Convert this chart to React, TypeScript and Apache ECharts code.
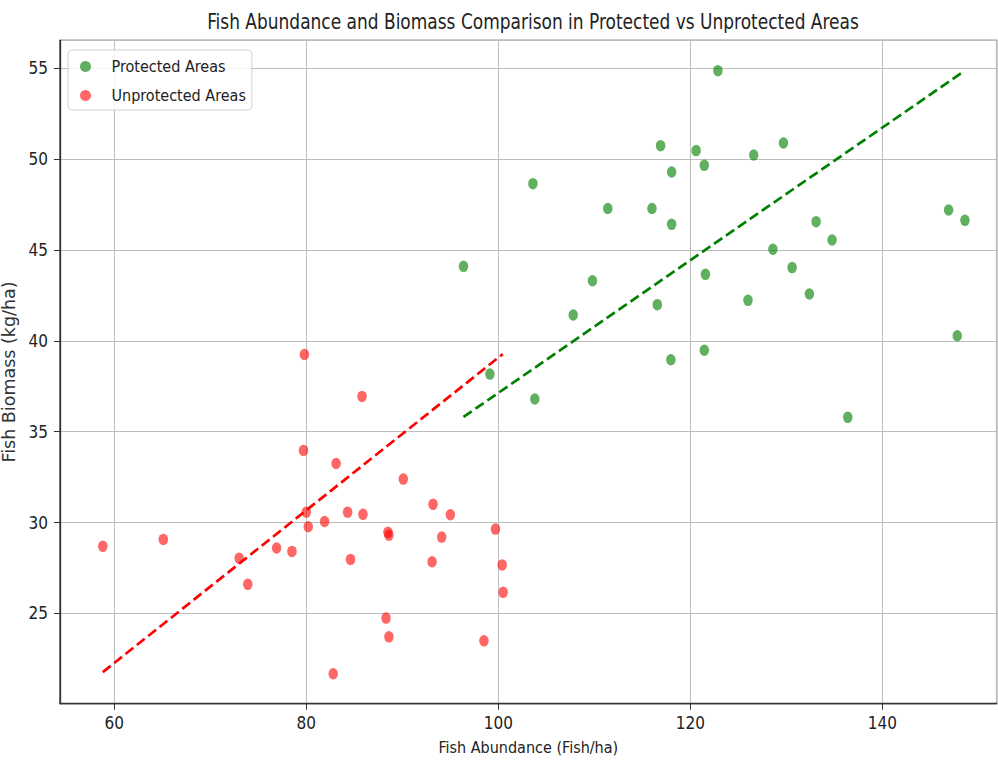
import React, { useEffect, useRef } from "react";
import * as echarts from "echarts";

const protectedX = [122.87, 116.9, 120.6, 121.45, 118.05, 126.6, 129.7, 103.6, 111.4, 116.0, 118.05, 133.1, 134.76, 146.9, 148.6, 128.6, 130.6, 96.37, 109.8, 121.57, 107.8, 116.56, 126.0, 132.4, 147.8, 117.97, 121.45, 99.12, 103.8, 136.4];
const protectedY = [54.87, 50.74, 50.47, 49.66, 49.29, 50.23, 50.89, 48.65, 47.28, 47.28, 46.41, 46.56, 45.55, 47.2, 46.63, 45.04, 44.03, 44.1, 43.31, 43.66, 41.42, 41.99, 42.23, 42.58, 40.28, 38.96, 39.48, 38.17, 36.8, 35.79];

const unprotectedX = [58.8, 65.1, 73.0, 73.9, 76.9, 78.5, 79.8, 79.7, 80.0, 80.2, 81.9, 83.1, 82.8, 84.3, 84.6, 85.8, 85.9, 88.5, 88.6, 88.3, 88.6, 90.1, 93.2, 93.1, 94.1, 95.0, 98.5, 99.7, 100.4, 100.5];
const unprotectedY = [28.69, 29.07, 28.04, 26.6, 28.6, 28.41, 39.25, 33.97, 30.57, 29.77, 30.06, 33.25, 21.68, 30.57, 27.97, 36.94, 30.45, 29.46, 29.3, 24.74, 23.71, 32.39, 31.0, 27.84, 29.2, 30.43, 23.49, 29.64, 27.67, 26.16];

const protectedTrendX = [96.37, 148.53];
const protectedTrendY = [35.81, 54.85];
const unprotectedTrendX = [58.8, 100.46];
const unprotectedTrendY = [21.77, 39.27];

const seriesNames = ["Protected Areas", "Unprotected Areas"];
const titleText = "Fish Abundance and Biomass Comparison in Protected vs Unprotected Areas";
const xAxisName = "Fish Abundance (Fish/ha)";
const yAxisName = "Fish Biomass (kg/ha)";

const NARROW = "'Liberation Sans Narrow', 'DejaVu Sans Condensed', 'Arial Narrow', 'DejaVu Sans', sans-serif";
const ELLIPSE = "path://M50,0A50,50,0,1,1,50,100A50,50,0,1,1,50,0Z";

const zip = (xs: number[], ys: number[]) => xs.map((x, i) => [x, ys[i]]);

export default function App() {
  const ref = useRef<HTMLDivElement>(null);
  useEffect(() => {
    document.body.style.margin = "0";
    if (!ref.current) return;
    const chart = echarts.init(ref.current, null, { renderer: "svg" });
    const axisCommon = {
      type: "value" as const,
      axisLine: { show: true, onZero: false, lineStyle: { color: "#333", width: 1.3 } },
      axisTick: { show: true, length: 6, lineStyle: { color: "#333", width: 1 } },
      splitLine: { show: true, lineStyle: { color: "#bdbdbd", width: 1 } },
    };
    chart.setOption({
      animation: false,
      backgroundColor: "#ffffff",
      grid: {
        left: 60,
        top: 40.3,
        width: 936.6,
        height: 663.4,
        containLabel: false,
        outerBoundsMode: "none",
        show: true,
        borderColor: "#333",
        borderWidth: 1.3,
        backgroundColor: "transparent",
      },
      graphic: [
        {
          type: "text",
          x: 533,
          y: 21,
          scaleX: 0.86,
          z: 10,
          style: {
            text: titleText,
            fill: "#222",
            font: `22px ${NARROW}`,
            textAlign: "center",
            textVerticalAlign: "middle",
          },
        },
      ],
      legend: {
        data: seriesNames,
        orient: "vertical",
        left: 68,
        top: 50,
        padding: [6, 6, 4, 12],
        itemWidth: 18,
        itemHeight: 11,
        itemGap: 8,
        icon: "circle",
        backgroundColor: "rgba(255,255,255,0.85)",
        borderColor: "#d0d0d0",
        borderWidth: 1,
        borderRadius: 4,
        textStyle: {
          fontFamily: NARROW,
          fontSize: 16,
          lineHeight: 21,
          color: "#222",
          padding: [0, 0, 0, 12],
        },
      },
      xAxis: {
        ...axisCommon,
        min: 54.34,
        max: 151.9,
        splitNumber: 5,
        minInterval: 20,
        maxInterval: 20,
        name: xAxisName,
        nameLocation: "middle",
        nameGap: 36,
        nameTextStyle: { fontFamily: NARROW, fontSize: 16, color: "#222" },
        axisLabel: {
          fontFamily: NARROW,
          fontSize: 17,
          color: "#222",
          margin: 11,
          showMinLabel: false,
          showMaxLabel: false,
        },
      },
      yAxis: {
        ...axisCommon,
        min: 20.03,
        max: 56.54,
        splitNumber: 7,
        minInterval: 5,
        maxInterval: 5,
        name: yAxisName,
        nameLocation: "middle",
        nameGap: 32,
        nameTextStyle: { fontFamily: "'DejaVu Sans', sans-serif", fontSize: 17.5, color: "#333" },
        axisLabel: {
          fontFamily: NARROW,
          fontSize: 17,
          color: "#222",
          margin: 12,
          showMinLabel: false,
          showMaxLabel: false,
        },
      },
      series: [
        {
          name: seriesNames[0],
          type: "scatter",
          data: zip(protectedX, protectedY),
          symbol: ELLIPSE,
          symbolSize: [9.5, 11.5],
          itemStyle: { color: "rgba(0,128,0,0.78)" },
          z: 2,
        },
        {
          name: seriesNames[1],
          type: "scatter",
          data: zip(unprotectedX, unprotectedY),
          symbol: ELLIPSE,
          symbolSize: [9.5, 11.5],
          itemStyle: { color: "rgba(255,0,0,0.75)" },
          z: 2,
        },
        {
          name: "Protected trend",
          type: "line",
          data: zip(protectedTrendX, protectedTrendY),
          showSymbol: false,
          symbol: "none",
          lineStyle: { color: "#008000", width: 2.7, type: [10, 4.5] },
          z: 3,
          silent: true,
        },
        {
          name: "Unprotected trend",
          type: "line",
          data: zip(unprotectedTrendX, unprotectedTrendY),
          showSymbol: false,
          symbol: "none",
          lineStyle: { color: "#ff0000", width: 2.7, type: [10, 4.5] },
          z: 3,
          silent: true,
        },
      ],
    });
    return () => chart.dispose();
  }, []);
  return <div ref={ref} style={{ width: 998, height: 761 }} />;
}
